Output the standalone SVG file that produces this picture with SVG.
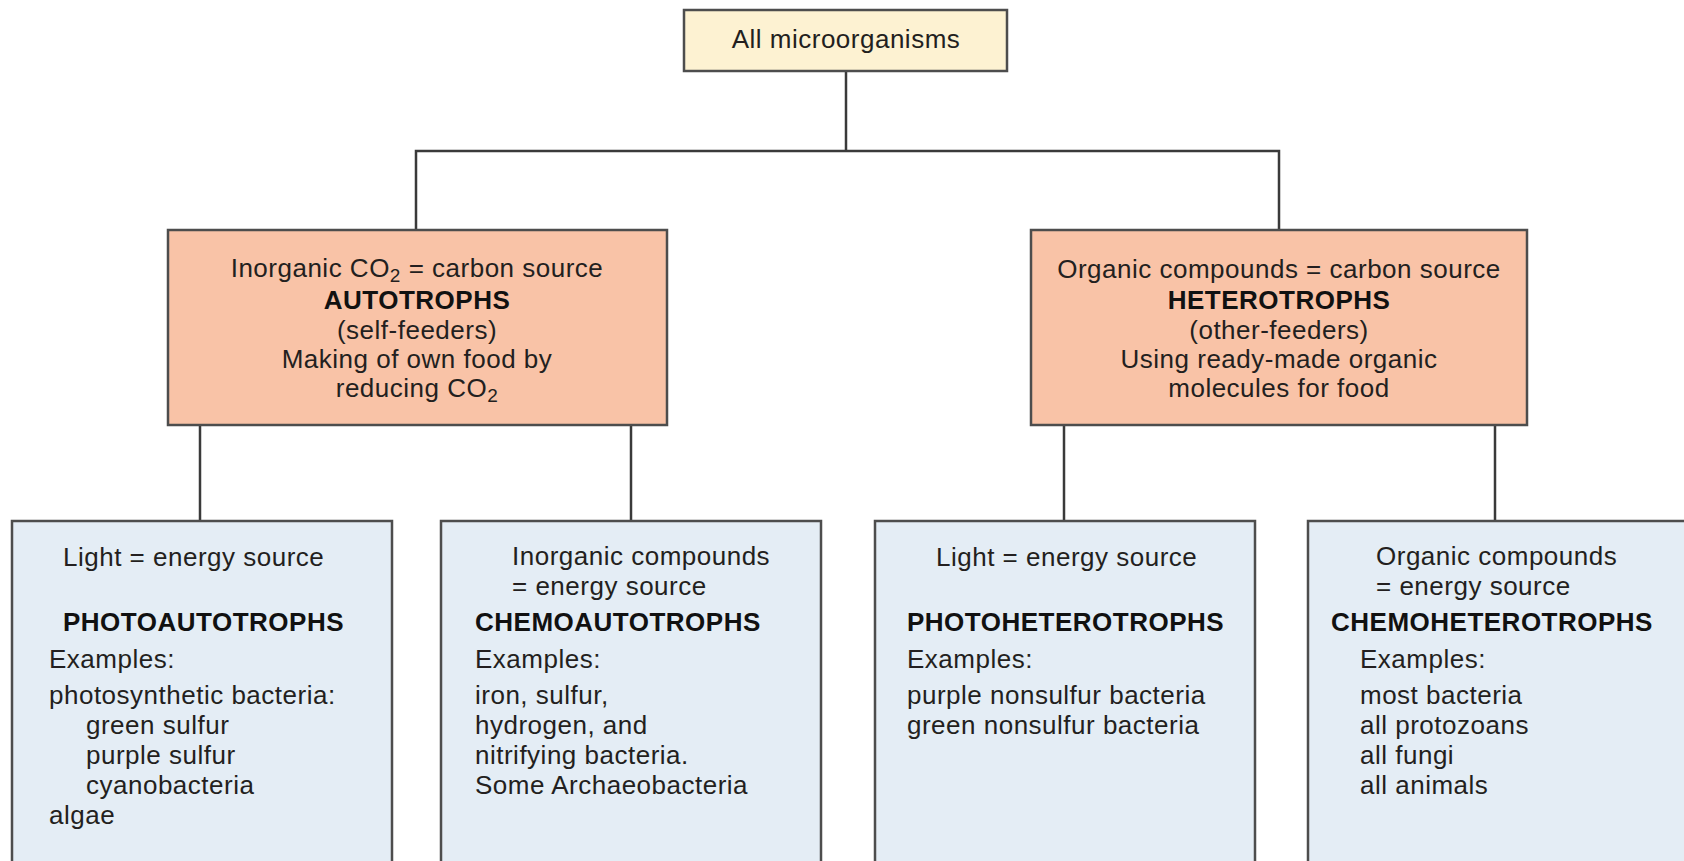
<svg xmlns="http://www.w3.org/2000/svg" width="1684" height="861" viewBox="0 0 1684 861">
<style>
  text { font-family: "Liberation Sans", Arial, Helvetica, sans-serif; font-size: 26px; fill: #231f20; letter-spacing: 0.5px; }
  .b { font-weight: bold; fill: #111; }
  .c { text-anchor: middle; }
  .box { stroke: #4d4d4d; stroke-width: 2.5; }
  .top { fill: #fdf2d2; }
  .mid { fill: #f9c3a7; }
  .low { fill: #e4edf5; }
  .sub { font-size: 19px; }
  #connectors line, #connectors path { stroke: #3a3a3a; stroke-width: 2.5; fill: none; }
</style>
<rect width="1684" height="861" fill="#ffffff"/>

<g id="connectors">
  <path d="M846 71 V151"/>
  <path d="M416 230 V151 H1279 V230"/>
  <line x1="200" y1="425" x2="200" y2="521"/>
  <line x1="631" y1="425" x2="631" y2="521"/>
  <line x1="1064" y1="425" x2="1064" y2="521"/>
  <line x1="1495" y1="425" x2="1495" y2="521"/>
</g>

<g id="all-microorganisms">
  <rect class="box top" x="684" y="10" width="323" height="61"/>
  <text class="c" x="846" y="48">All microorganisms</text>
</g>

<g id="autotrophs">
  <rect class="box mid" x="168" y="230" width="499" height="195"/>
  <text class="c" x="417" y="277">Inorganic CO<tspan class="sub" dy="5">2</tspan><tspan dy="-5"> = carbon source</tspan></text>
  <text class="c b" x="417" y="309">AUTOTROPHS</text>
  <text class="c" x="417" y="339">(self-feeders)</text>
  <text class="c" x="417" y="368">Making of own food by</text>
  <text class="c" x="417" y="397">reducing CO<tspan class="sub" dy="5">2</tspan></text>
</g>

<g id="heterotrophs">
  <rect class="box mid" x="1031" y="230" width="496" height="195"/>
  <text class="c" x="1279" y="278">Organic compounds = carbon source</text>
  <text class="c b" x="1279" y="309">HETEROTROPHS</text>
  <text class="c" x="1279" y="339">(other-feeders)</text>
  <text class="c" x="1279" y="368">Using ready-made organic</text>
  <text class="c" x="1279" y="397">molecules for food</text>
</g>

<g id="photoautotrophs">
  <rect class="box low" x="12" y="521" width="380" height="360"/>
  <text x="63" y="566">Light = energy source</text>
  <text class="b" x="63" y="631">PHOTOAUTOTROPHS</text>
  <text x="49" y="668">Examples:</text>
  <text x="49" y="704">photosynthetic bacteria:</text>
  <text x="86" y="734">green sulfur</text>
  <text x="86" y="764">purple sulfur</text>
  <text x="86" y="794">cyanobacteria</text>
  <text x="49" y="824">algae</text>
</g>

<g id="chemoautotrophs">
  <rect class="box low" x="441" y="521" width="380" height="360"/>
  <text x="512" y="565">Inorganic compounds</text>
  <text x="512" y="595">= energy source</text>
  <text class="b" x="475" y="631">CHEMOAUTOTROPHS</text>
  <text x="475" y="668">Examples:</text>
  <text x="475" y="704">iron, sulfur,</text>
  <text x="475" y="734">hydrogen, and</text>
  <text x="475" y="764">nitrifying bacteria.</text>
  <text x="475" y="794">Some Archaeobacteria</text>
</g>

<g id="photoheterotrophs">
  <rect class="box low" x="875" y="521" width="380" height="360"/>
  <text x="936" y="566">Light = energy source</text>
  <text class="b" x="907" y="631">PHOTOHETEROTROPHS</text>
  <text x="907" y="668">Examples:</text>
  <text x="907" y="704">purple nonsulfur bacteria</text>
  <text x="907" y="734">green nonsulfur bacteria</text>
</g>

<g id="chemoheterotrophs">
  <rect class="box low" x="1308" y="521" width="400" height="360"/>
  <text x="1376" y="565">Organic compounds</text>
  <text x="1376" y="595">= energy source</text>
  <text class="b" x="1331" y="631">CHEMOHETEROTROPHS</text>
  <text x="1360" y="668">Examples:</text>
  <text x="1360" y="704">most bacteria</text>
  <text x="1360" y="734">all protozoans</text>
  <text x="1360" y="764">all fungi</text>
  <text x="1360" y="794">all animals</text>
</g>
</svg>
